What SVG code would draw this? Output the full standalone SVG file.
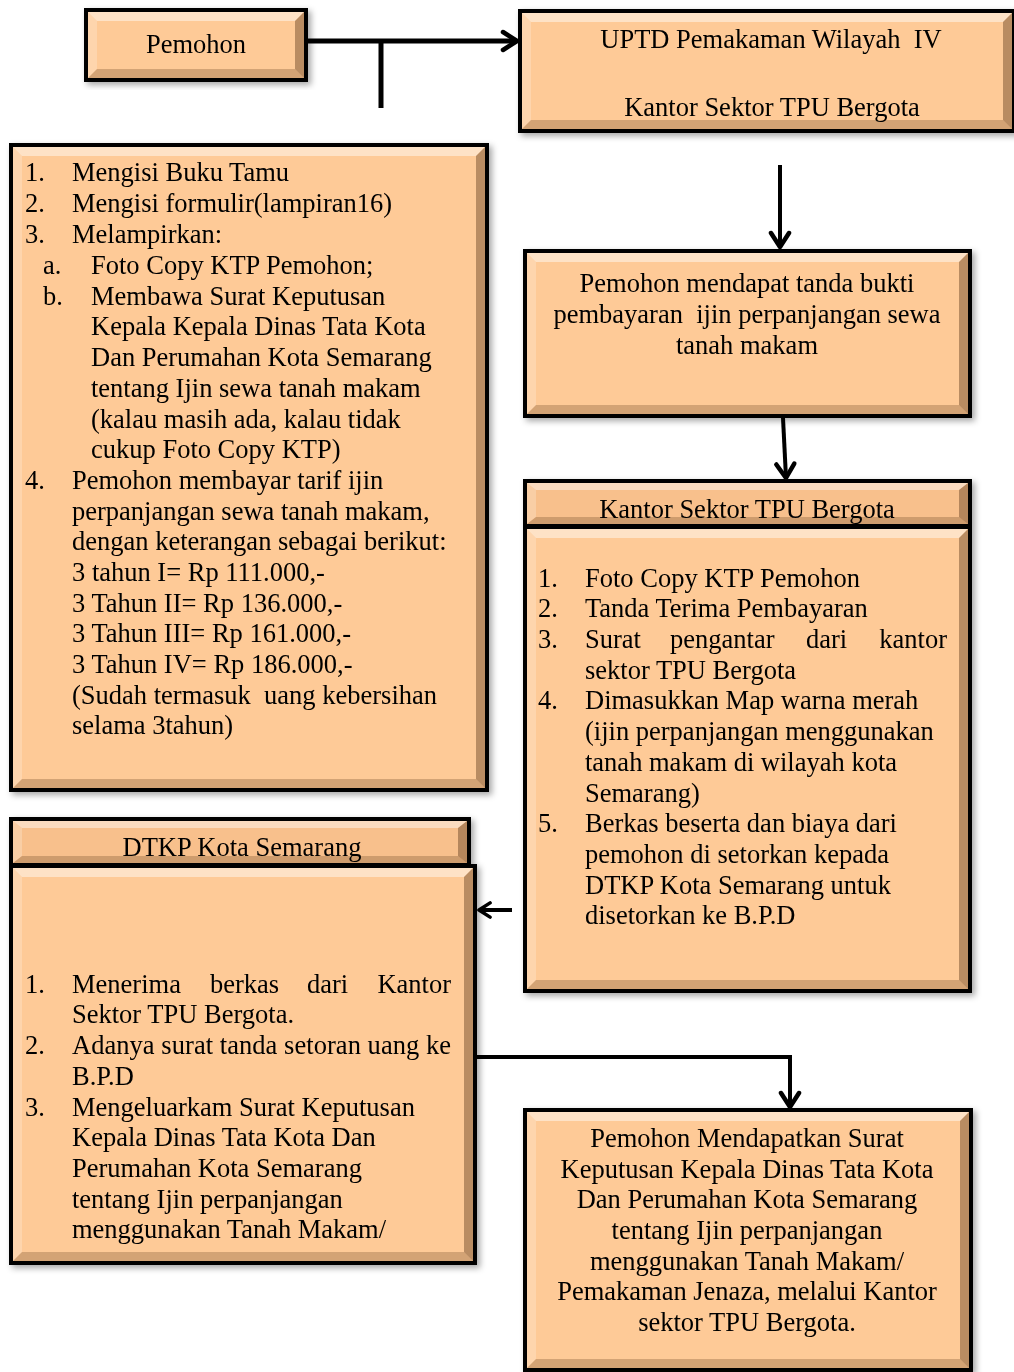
<svg xmlns="http://www.w3.org/2000/svg" width="1014" height="1372" viewBox="0 0 1014 1372">
<style>
text{font-family:"Liberation Serif","Times New Roman",serif;font-size:26.5px;fill:#000}
.c{text-anchor:middle}
.e{text-anchor:end}
.bd{fill:#000}
.in{fill:#FECA97}
.hd{fill:#F8C08C}
.bt{fill:#fff;opacity:.45}
.bl{fill:#fff;opacity:.22}
.br{fill:#3a1a00;opacity:.35}
.bb{fill:#3a1a00;opacity:.22}
.ln{stroke:#000;fill:none;stroke-linecap:butt}
</style>
<defs>
<filter id="sh" x="-5%" y="-5%" width="115%" height="115%">
<feDropShadow dx="3" dy="3" stdDeviation="3" flood-color="#000" flood-opacity="0.35"/>
</filter>
<marker id="ah" viewBox="0 0 20 24" refX="17" refY="12" markerWidth="20" markerHeight="24" markerUnits="userSpaceOnUse" orient="auto">
<path d="M3,3 L17,12 L3,21" fill="none" stroke="#000" stroke-width="4.5" stroke-linecap="round" stroke-linejoin="round"/>
</marker>
<marker id="ahs" viewBox="0 0 20 24" refX="17" refY="12" markerWidth="16" markerHeight="19" markerUnits="userSpaceOnUse" orient="auto">
<path d="M3,3 L17,12 L3,21" fill="none" stroke="#000" stroke-width="4.5" stroke-linecap="round" stroke-linejoin="round"/>
</marker>
</defs>
<rect width="1014" height="1372" fill="#fff"/>

<g id="connectors">
<line class="ln" x1="308" y1="41" x2="517" y2="41" stroke-width="5" marker-end="url(#ah)"/>
<line class="ln" x1="381" y1="41" x2="381" y2="108" stroke-width="5"/>
<line class="ln" x1="780" y1="165" x2="780" y2="247" stroke-width="4" marker-end="url(#ah)"/>
<line class="ln" x1="783" y1="418" x2="786" y2="478" stroke-width="4" marker-end="url(#ah)"/>
<line class="ln" x1="512" y1="910" x2="479" y2="910" stroke-width="4" marker-end="url(#ahs)"/>
<path class="ln" d="M472,1057 H790 V1107" stroke-width="4" marker-end="url(#ah)"/>
</g>

<g id="n-pemohon" filter="url(#sh)">
<rect class="bd" x="84" y="8" width="224" height="74"/>
<rect class="in" x="88" y="12" width="216" height="66"/>
<polygon class="bt" points="88,12 304,12 295,21 97,21"/>
<polygon class="bl" points="88,12 97,21 97,69 88,78"/>
<polygon class="br" points="304,12 304,78 295,69 295,21"/>
<polygon class="bb" points="88,78 304,78 295,69 97,69"/>
<text class="c" x="196" y="53">Pemohon</text>
</g>

<g id="n-uptd" filter="url(#sh)">
<rect class="bd" x="518" y="9" width="498" height="124"/>
<rect class="in" x="522" y="13" width="490" height="116"/>
<polygon class="bt" points="522,13 1012,13 1003,22 531,22"/>
<polygon class="bl" points="522,13 531,22 531,120 522,129"/>
<polygon class="br" points="1012,13 1012,129 1003,120 1003,22"/>
<polygon class="bb" points="522,129 1012,129 1003,120 531,120"/>
<text class="c" x="771" y="48" xml:space="preserve">UPTD Pemakaman Wilayah  IV</text>
<text class="c" x="772" y="116">Kantor Sektor TPU Bergota</text>
</g>

<g id="n-syarat" filter="url(#sh)">
<rect class="bd" x="9" y="143" width="480" height="649"/>
<rect class="in" x="13" y="147" width="472" height="641"/>
<polygon class="bt" points="13,147 485,147 476,156 22,156"/>
<polygon class="bl" points="13,147 22,156 22,779 13,788"/>
<polygon class="br" points="485,147 485,788 476,779 476,156"/>
<polygon class="bb" points="13,788 485,788 476,779 22,779"/>
<text x="25" y="181">1.</text><text x="72" y="181">Mengisi Buku Tamu</text>
<text x="25" y="212">2.</text><text x="72" y="212">Mengisi formulir(lampiran16)</text>
<text x="25" y="243">3.</text><text x="72" y="243">Melampirkan:</text>
<text x="43" y="274">a.</text><text x="91" y="274">Foto Copy KTP Pemohon;</text>
<text x="43" y="305">b.</text><text x="91" y="305">Membawa Surat Keputusan</text>
<text x="91" y="335">Kepala Kepala Dinas Tata Kota</text>
<text x="91" y="366">Dan Perumahan Kota Semarang</text>
<text x="91" y="397">tentang Ijin sewa tanah makam</text>
<text x="91" y="428">(kalau masih ada, kalau tidak</text>
<text x="91" y="458">cukup Foto Copy KTP)</text>
<text x="25" y="489">4.</text><text x="72" y="489">Pemohon membayar tarif ijin</text>
<text x="72" y="520">perpanjangan sewa tanah makam,</text>
<text x="72" y="550">dengan keterangan sebagai berikut:</text>
<text x="72" y="581">3 tahun I= Rp 111.000,-</text>
<text x="72" y="612">3 Tahun II= Rp 136.000,-</text>
<text x="72" y="642">3 Tahun III= Rp 161.000,-</text>
<text x="72" y="673">3 Tahun IV= Rp 186.000,-</text>
<text x="72" y="704" xml:space="preserve">(Sudah termasuk  uang kebersihan</text>
<text x="72" y="734">selama 3tahun)</text>
</g>

<g id="n-bukti" filter="url(#sh)">
<rect class="bd" x="523" y="249" width="449" height="169"/>
<rect class="in" x="527" y="253" width="441" height="161"/>
<polygon class="bt" points="527,253 968,253 959,262 536,262"/>
<polygon class="bl" points="527,253 536,262 536,405 527,414"/>
<polygon class="br" points="968,253 968,414 959,405 959,262"/>
<polygon class="bb" points="527,414 968,414 959,405 536,405"/>
<text class="c" x="747" y="292">Pemohon mendapat tanda bukti</text>
<text class="c" x="747" y="323" xml:space="preserve">pembayaran  ijin perpanjangan sewa</text>
<text class="c" x="747" y="354">tanah makam</text>
</g>

<g id="n-kantor" filter="url(#sh)">
<rect class="bd" x="523" y="525" width="449" height="468"/>
<rect class="in" x="527" y="529" width="441" height="460"/>
<polygon class="bt" points="527,529 968,529 959,538 536,538"/>
<polygon class="bl" points="527,529 536,538 536,980 527,989"/>
<polygon class="br" points="968,529 968,989 959,980 959,538"/>
<polygon class="bb" points="527,989 968,989 959,980 536,980"/>
<rect class="bd" x="523" y="479" width="449" height="50"/>
<rect class="hd" x="527" y="483" width="441" height="41"/>
<polygon class="bt" points="527,483 968,483 959,490 536,490"/>
<polygon class="bl" points="527,483 536,490 536,517 527,524"/>
<polygon class="br" points="968,483 968,524 959,517 959,490"/>
<polygon class="bb" points="527,524 968,524 959,517 536,517"/>
<text class="c" x="747" y="518">Kantor Sektor TPU Bergota</text>
<text x="538" y="587">1.</text><text x="585" y="587">Foto Copy KTP Pemohon</text>
<text x="538" y="617">2.</text><text x="585" y="617">Tanda Terima Pembayaran</text>
<text x="538" y="648">3.</text><text x="585" y="648">Surat</text><text x="670" y="648">pengantar</text><text x="806" y="648">dari</text><text class="e" x="947" y="648">kantor</text>
<text x="585" y="679">sektor TPU Bergota</text>
<text x="538" y="709">4.</text><text x="585" y="709">Dimasukkan Map warna merah</text>
<text x="585" y="740">(ijin perpanjangan menggunakan</text>
<text x="585" y="771">tanah makam di wilayah kota</text>
<text x="585" y="802">Semarang)</text>
<text x="538" y="832">5.</text><text x="585" y="832">Berkas beserta dan biaya dari</text>
<text x="585" y="863">pemohon di setorkan kepada</text>
<text x="585" y="894">DTKP Kota Semarang untuk</text>
<text x="585" y="924">disetorkan ke B.P.D</text>
</g>

<g id="n-dtkp" filter="url(#sh)">
<rect class="bd" x="9" y="864" width="468" height="401"/>
<rect class="in" x="13" y="868" width="460" height="393"/>
<polygon class="bt" points="13,868 473,868 464,877 22,877"/>
<polygon class="bl" points="13,868 22,877 22,1252 13,1261"/>
<polygon class="br" points="473,868 473,1261 464,1252 464,877"/>
<polygon class="bb" points="13,1261 473,1261 464,1252 22,1252"/>
<rect class="bd" x="9" y="817" width="462" height="51"/>
<rect class="hd" x="13" y="821" width="454" height="42"/>
<polygon class="bt" points="13,821 467,821 458,828 22,828"/>
<polygon class="bl" points="13,821 22,828 22,856 13,863"/>
<polygon class="br" points="467,821 467,863 458,856 458,828"/>
<polygon class="bb" points="13,863 467,863 458,856 22,856"/>
<text class="c" x="242" y="856">DTKP Kota Semarang</text>
<text x="25" y="993">1.</text><text x="72" y="993">Menerima</text><text x="210" y="993">berkas</text><text x="307" y="993">dari</text><text class="e" x="451" y="993">Kantor</text>
<text x="72" y="1023">Sektor TPU Bergota.</text>
<text x="25" y="1054">2.</text><text x="72" y="1054" textLength="379" lengthAdjust="spacing">Adanya surat tanda setoran uang ke</text>
<text x="72" y="1085">B.P.D</text>
<text x="25" y="1116">3.</text><text x="72" y="1116">Mengeluarkam Surat Keputusan</text>
<text x="72" y="1146">Kepala Dinas Tata Kota Dan</text>
<text x="72" y="1177">Perumahan Kota Semarang</text>
<text x="72" y="1208">tentang Ijin perpanjangan</text>
<text x="72" y="1238">menggunakan Tanah Makam/</text>
</g>

<g id="n-hasil" filter="url(#sh)">
<rect class="bd" x="523" y="1108" width="450" height="264"/>
<rect class="in" x="527" y="1112" width="442" height="256"/>
<polygon class="bt" points="527,1112 969,1112 960,1121 536,1121"/>
<polygon class="bl" points="527,1112 536,1121 536,1359 527,1368"/>
<polygon class="br" points="969,1112 969,1368 960,1359 960,1121"/>
<polygon class="bb" points="527,1368 969,1368 960,1359 536,1359"/>
<text class="c" x="747" y="1147">Pemohon Mendapatkan Surat</text>
<text class="c" x="747" y="1178">Keputusan Kepala Dinas Tata Kota</text>
<text class="c" x="747" y="1208">Dan Perumahan Kota Semarang</text>
<text class="c" x="747" y="1239">tentang Ijin perpanjangan</text>
<text class="c" x="747" y="1270">menggunakan Tanah Makam/</text>
<text class="c" x="747" y="1300">Pemakaman Jenaza, melalui Kantor</text>
<text class="c" x="747" y="1331">sektor TPU Bergota.</text>
</g>
</svg>
